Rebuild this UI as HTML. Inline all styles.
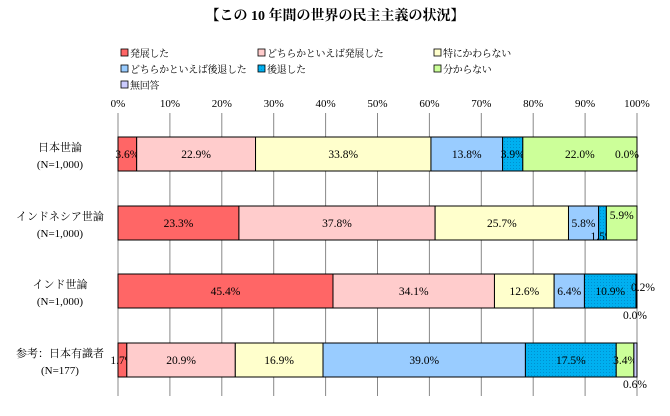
<!DOCTYPE html>
<html><head><meta charset="utf-8"><style>
body{margin:0;background:#fff;width:670px;height:411px;overflow:hidden}
svg text{font-family:"Liberation Serif","Noto Serif CJK SC","Noto Sans CJK JP",serif;fill:#000}
</style></head><body>
<svg id="chart" width="670" height="411">
<defs><pattern id="dots" width="3" height="3" patternUnits="userSpaceOnUse"><rect width="3" height="3" fill="#00b0f0"/><rect width="1" height="1" fill="#0090d0"/></pattern></defs>
<text x="335" y="20" text-anchor="middle" font-size="14" font-weight="bold">【この 10 年間の世界の民主主義の状況】</text>
<g id="legend"></g><g id="grid"></g><g id="bars"></g>
</svg>
<script>
const categories=["日本世論|(N=1,000)","インドネシア世論|(N=1,000)","インド世論|(N=1,000)","参考：日本有識者|(N=177)"];
const seriesNames=["発展した","どちらかといえば発展した","特にかわらない","どちらかといえば後退した","後退した","分からない","無回答"];
const s1=[3.6,23.3,45.4,1.7];
const s2=[22.9,37.8,34.1,20.9];
const s3=[33.8,25.7,12.6,16.9];
const s4=[13.8,5.8,6.4,39.0];
const s5=[3.9,1.5,10.9,17.5];
const s6=[22.0,5.9,0.0,3.4];
const s7=[0.0,0.0,0.2,0.6];
const ticks=["0%","10%","20%","30%","40%","50%","60%","70%","80%","90%","100%"];
const series=[s1,s2,s3,s4,s5,s6,s7];
const colors=["#ff6666","#ffcccc","#ffffcc","#99ccff","url(#dots)","#ccff99","#ccccff"];
const NS="http://www.w3.org/2000/svg";
const X0=118,X1=637,TOP=113,BOT=396;
const rowY=[137,206,274,343],BH=34;
const xs=p=>X0+(X1-X0)*p/100;
function mk(tag,attrs,parent,txt){const e=document.createElementNS(NS,tag);for(const k in attrs)e.setAttribute(k,attrs[k]);if(txt!==undefined)e.textContent=txt;parent.appendChild(e);return e;}
const lg=document.getElementById('legend'),gr=document.getElementById('grid'),bg=document.getElementById('bars');
const legX=[121,258,434],legY=[57,73,89];
seriesNames.forEach((n,i)=>{
  const g=mk('g',{},lg);
  
  
  const x=legX[i%3],y=legY[Math.floor(i/3)];
  mk('rect',{x:x,y:y-8,width:7,height:7,fill:colors[i],stroke:'#000','stroke-width':0.8},g);
  mk('text',{x:x+9,y:y,'font-size':10,'letter-spacing':'-0.3'},g,n);
});
ticks.forEach((t,i)=>{
  const v=i*10;
  const l=mk('line',{x1:xs(v),x2:xs(v),y1:TOP,y2:BOT,stroke:'#888','stroke-width':1},gr);
  
  
  const tx=mk('text',{x:xs(v),y:107,'text-anchor':'middle','font-size':11},gr,t);
  
  
});
categories.forEach((c,r)=>{
  const parts=c.split('|');
  const y=rowY[r]+BH/2;
  const t1=mk('text',{x:60,y:y-3,'text-anchor':'middle','font-size':11},bg,parts[0]);
  
  
  const t2=mk('text',{x:60,y:y+14,'text-anchor':'middle','font-size':11},bg,parts[1]);
  
  
  let tot=0;series.forEach(s=>tot+=s[r]);
  let acc=0;
  series.forEach((s,i)=>{
    const v=s[r];const x=xs(acc/tot*100),w=xs((acc+v)/tot*100)-x;
    const b=mk('rect',{x:x,y:rowY[r],width:Math.max(w,0),height:BH,fill:colors[i],stroke:'#000','stroke-width':1},bg);
    
    
    let lx=x+w/2,ly=y+4,show=true;
    if(v<1){
      if(r===0){ if(i===6){lx=X1-10;ly=y+4;} else show=false; }
      else if(r===1){ show=false; }
      else if(r===2){ if(i===6){lx=X1+6;ly=y;} else {lx=X1-2;ly=y+28;} }
      else { lx=X1-2;ly=y+28; }
    }
    if(r===1&&i===4){ly=y+17;}
    if(r===1&&i===5){ly=y-4;}
    if(show){
      const lb=mk('text',{x:lx,y:ly,'text-anchor':'middle','font-size':11.5},bg,v.toFixed(1)+'%');
      
      
    }
    acc+=v;
  });
});
</script>
</body></html>
